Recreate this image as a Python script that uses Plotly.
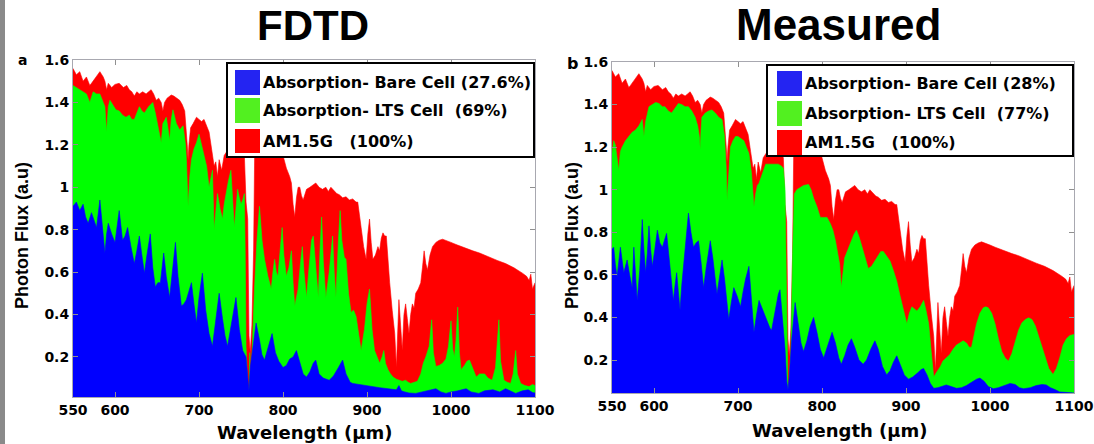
import plotly.graph_objects as go

# ---------------- data (photon flux, a.u.) ----------------
wl_am15 = [550, 554, 558, 562, 566, 570, 572, 576, 580, 582, 586, 588, 590, 592, 596, 600, 605, 610, 614, 617,
           620, 623, 626, 629, 633, 637, 640, 643, 646, 649, 652, 655, 657, 659, 662, 665, 667, 670, 673, 677,
           680, 683, 686, 687, 688, 690, 693, 697, 700, 703, 706, 709, 712, 715, 718, 720, 722, 724, 727, 730,
           735, 740, 745, 750, 754, 756, 758, 759.5, 761, 763, 765, 766.5, 775, 785, 795, 800, 804, 808, 810, 812,
           814, 816, 818, 820, 822, 824, 826, 828, 832, 836, 839, 843, 847, 851, 854, 857, 861, 864, 867, 871,
           875, 879, 883, 887, 889, 891, 893, 896, 899, 901, 903, 905, 907, 910, 913, 915, 917, 919, 921, 923,
           925, 927, 930, 933, 935, 937, 938, 940, 942, 944, 946, 948, 950, 952, 954, 956, 958, 961, 964, 966,
           968, 970, 972, 975, 978, 982, 986, 990, 994, 1000, 1006, 1012, 1018, 1026, 1034, 1045, 1055, 1065, 1075, 1085,
           1090, 1093, 1095, 1097, 1100]
flux_am15 = [1.56, 1.53, 1.545, 1.50, 1.52, 1.48, 1.49, 1.51, 1.53, 1.545, 1.52, 1.50, 1.46, 1.49, 1.47, 1.485, 1.49, 1.47, 1.48, 1.46,
             1.45, 1.43, 1.45, 1.44, 1.45, 1.44, 1.45, 1.46, 1.44, 1.41, 1.42, 1.40, 1.36, 1.40, 1.42, 1.43, 1.435, 1.43, 1.42, 1.41,
             1.39, 1.36, 1.20, 1.13, 1.20, 1.28, 1.30, 1.33, 1.32, 1.31, 1.32, 1.29, 1.26, 1.18, 1.10, 1.12, 1.05, 1.13, 1.08, 1.15,
             1.18, 1.17, 1.19, 1.18, 1.15, 0.93, 0.85, 0.30, 0.22, 0.35, 0.70, 1.25, 1.28, 1.27, 1.25, 1.15, 1.09, 1.05, 1.02, 0.92,
             0.86, 0.95, 1.00, 1.00, 0.96, 0.94, 0.97, 0.99, 1.00, 1.01, 1.02, 1.00, 0.99, 1.00, 0.98, 1.00, 0.98, 0.97, 0.965, 0.95,
             0.955, 0.94, 0.945, 0.93, 0.93, 0.86, 0.81, 0.72, 0.66, 0.78, 0.85, 0.74, 0.66, 0.68, 0.72, 0.70, 0.76, 0.785, 0.77, 0.77,
             0.65, 0.55, 0.42, 0.31, 0.15, 0.35, 0.47, 0.35, 0.23, 0.40, 0.45, 0.38, 0.31, 0.40, 0.45, 0.43, 0.50, 0.52, 0.55, 0.62,
             0.70, 0.64, 0.61, 0.68, 0.72, 0.74, 0.75, 0.755, 0.75, 0.74, 0.73, 0.72, 0.71, 0.70, 0.69, 0.67, 0.655, 0.64, 0.62, 0.595,
             0.58, 0.56, 0.59, 0.52, 0.55]

wl_lts_fdtd = [550, 554, 558, 562, 566, 570, 574, 578, 582, 586, 588, 590, 592, 594, 598, 601, 605, 609, 613, 617,
               620, 623, 626, 629, 632, 635, 640, 645, 648, 651, 653, 655, 657, 661, 663, 665, 667, 669, 673, 677,
               681, 684, 685, 687, 689, 691, 694, 697, 700, 703, 706, 709, 712, 714, 716, 718, 720, 722, 725, 728,
               730, 732, 735, 738, 740, 742, 744, 746, 748, 750, 752, 754, 755, 756, 758, 759.5, 760.5, 761.5, 764, 766,
               769, 772, 775, 778, 782, 786, 788, 790, 792, 794, 797, 799, 801, 804, 807, 810, 812, 814, 816, 818,
               821, 823, 825, 828, 831, 834, 836, 839, 842, 844, 846, 848, 851, 855, 859, 861, 863, 866, 868, 870,
               873, 875, 878, 881, 884, 887, 890, 893, 897, 900, 903, 906, 909, 912, 915, 918, 920, 922, 925, 928,
               931, 935, 938, 942, 946, 949, 952, 956, 960, 964, 967, 970, 974, 977, 979, 982, 986, 990, 994, 997,
               1000, 1002, 1004, 1006, 1008, 1010, 1012, 1016, 1019, 1022, 1026, 1030, 1034, 1040, 1044, 1049, 1053, 1057, 1059, 1063,
               1067, 1071, 1074, 1077, 1079, 1083, 1088, 1093, 1097, 1100]
flux_lts_fdtd = [1.48, 1.47, 1.46, 1.45, 1.44, 1.40, 1.45, 1.44, 1.44, 1.40, 1.38, 1.26, 1.38, 1.41, 1.38, 1.365, 1.36, 1.34, 1.33, 1.34,
                 1.32, 1.32, 1.35, 1.38, 1.36, 1.35, 1.38, 1.40, 1.35, 1.29, 1.25, 1.21, 1.30, 1.33, 1.28, 1.22, 1.32, 1.365, 1.30, 1.27,
                 1.29, 1.20, 1.13, 0.91, 1.05, 1.13, 1.18, 1.21, 1.25, 1.20, 1.16, 1.10, 1.00, 1.05, 1.08, 0.80, 0.90, 0.97, 0.90, 0.85,
                 0.92, 0.97, 1.03, 1.08, 0.95, 0.81, 0.90, 0.99, 0.95, 0.92, 0.94, 0.97, 0.70, 0.25, 0.06, 0.04, 0.22, 0.05, 0.30, 0.52,
                 0.75, 0.91, 0.75, 0.66, 0.58, 0.52, 0.60, 0.66, 0.60, 0.58, 0.72, 0.81, 0.68, 0.58, 0.62, 0.70, 0.55, 0.44, 0.48, 0.52,
                 0.65, 0.72, 0.60, 0.48, 0.62, 0.75, 0.77, 0.60, 0.48, 0.70, 0.86, 0.65, 0.48, 0.60, 0.77, 0.60, 0.48, 0.75, 0.89, 0.75,
                 0.67, 0.66, 0.50, 0.41, 0.42, 0.39, 0.30, 0.23, 0.33, 0.45, 0.52, 0.33, 0.23, 0.20, 0.17, 0.20, 0.23, 0.17, 0.14, 0.12,
                 0.105, 0.095, 0.09, 0.085, 0.09, 0.08, 0.075, 0.08, 0.085, 0.12, 0.17, 0.20, 0.25, 0.375, 0.22, 0.155, 0.16, 0.17, 0.19, 0.25,
                 0.37, 0.24, 0.20, 0.28, 0.435, 0.22, 0.14, 0.16, 0.18, 0.185, 0.14, 0.105, 0.12, 0.12, 0.10, 0.09, 0.15, 0.375, 0.18, 0.09,
                 0.08, 0.075, 0.12, 0.23, 0.12, 0.075, 0.065, 0.06, 0.07, 0.065]

wl_bare_fdtd = [550, 554, 558, 562, 565, 568, 572, 575, 578, 582, 585, 588, 590, 592, 596, 600, 605, 609, 612, 615,
                619, 623, 626, 629, 632, 635, 638, 642, 645, 648, 651, 654, 658, 661, 665, 668, 672, 675, 679, 682,
                685, 688, 691, 694, 697, 700, 704, 708, 712, 716, 720, 724, 728, 731, 734, 738, 741, 744, 748, 752,
                756, 758, 759.5, 761, 764, 768, 772, 775, 778, 782, 787, 791, 795, 800, 804, 808, 812, 816, 820, 824,
                828, 832, 836, 839, 843, 848, 855, 860, 866, 871, 875, 880, 883, 890, 897, 907, 915, 925, 935, 938,
                941, 944, 950, 958, 966, 974, 982, 988, 994, 1000, 1008, 1018, 1024, 1033, 1040, 1050, 1058, 1065, 1072, 1077,
                1085, 1092, 1097, 1100]
flux_bare_fdtd = [0.91, 0.93, 0.89, 0.92, 0.86, 0.83, 0.88, 0.84, 0.81, 0.94, 0.80, 0.69, 0.78, 0.83, 0.78, 0.74, 0.89, 0.75, 0.77, 0.81,
                  0.72, 0.64, 0.70, 0.77, 0.68, 0.595, 0.68, 0.78, 0.62, 0.53, 0.55, 0.55, 0.69, 0.58, 0.48, 0.60, 0.74, 0.58, 0.44, 0.45,
                  0.47, 0.51, 0.55, 0.45, 0.36, 0.48, 0.595, 0.42, 0.31, 0.25, 0.38, 0.50, 0.38, 0.30, 0.25, 0.35, 0.42, 0.48, 0.33, 0.23,
                  0.20, 0.08, 0.04, 0.15, 0.25, 0.36, 0.28, 0.21, 0.185, 0.24, 0.31, 0.22, 0.18, 0.15, 0.16, 0.19, 0.20, 0.23, 0.17, 0.12,
                  0.105, 0.13, 0.17, 0.185, 0.12, 0.10, 0.09, 0.11, 0.15, 0.185, 0.12, 0.08, 0.075, 0.07, 0.065, 0.06, 0.055, 0.05, 0.045, 0.065,
                  0.04, 0.036, 0.03, 0.028, 0.035, 0.04, 0.05, 0.035, 0.028, 0.035, 0.04, 0.05, 0.035, 0.028, 0.04, 0.045, 0.035, 0.05, 0.035, 0.028,
                  0.04, 0.045, 0.032, 0.03]

wl_lts_meas = [550, 552, 554, 556, 558, 560, 562, 566, 570, 574, 578, 582, 586, 588, 590, 594, 598, 602, 606, 610,
               613, 617, 621, 625, 629, 633, 637, 641, 645, 649, 652, 654, 655, 656, 657, 661, 665, 669, 673, 677,
               681, 684, 686, 687, 689, 691, 694, 697, 700, 704, 707, 710, 713, 716, 719, 721, 723, 725, 729, 733,
               737, 740, 744, 748, 752, 754, 756, 758, 759.5, 761, 763, 765, 767, 770, 774, 778, 784, 787, 790, 794,
               798, 802, 806, 810, 813, 816, 819, 821, 823, 825, 827, 831, 835, 838, 841, 844, 847, 851, 855, 859,
               863, 867, 870, 873, 877, 881, 885, 889, 893, 897, 901, 904, 907, 910, 913, 917, 921, 924, 927, 930,
               933, 936, 938, 941, 944, 948, 952, 956, 960, 964, 968, 972, 975, 978, 981, 984, 988, 992, 995, 998,
               1002, 1006, 1010, 1014, 1018, 1022, 1026, 1030, 1034, 1038, 1042, 1046, 1050, 1054, 1058, 1062, 1066, 1070, 1075, 1079,
               1083, 1087, 1091, 1095, 1100]
flux_lts_meas = [1.17, 1.23, 1.21, 1.15, 1.09, 1.18, 1.20, 1.23, 1.25, 1.27, 1.28, 1.30, 1.33, 1.25, 1.32, 1.39, 1.40, 1.41, 1.405, 1.39,
                 1.39, 1.37, 1.36, 1.38, 1.405, 1.40, 1.39, 1.39, 1.37, 1.34, 1.30, 1.25, 1.19, 1.28, 1.34, 1.36, 1.37, 1.375, 1.36, 1.34,
                 1.33, 1.25, 1.10, 0.95, 1.10, 1.20, 1.23, 1.25, 1.25, 1.24, 1.23, 1.20, 1.17, 1.08, 0.92, 0.98, 1.02, 1.03, 1.08, 1.12,
                 1.12, 1.12, 1.12, 1.12, 1.11, 1.10, 1.00, 0.30, 0.06, 0.10, 0.25, 0.70, 0.98, 1.00, 1.01, 1.02, 1.025, 1.00, 0.96, 0.92,
                 0.87, 0.87, 0.87, 0.84, 0.81, 0.76, 0.70, 0.65, 0.54, 0.62, 0.68, 0.72, 0.76, 0.79, 0.81, 0.78, 0.74, 0.69, 0.63, 0.64,
                 0.665, 0.69, 0.71, 0.71, 0.69, 0.665, 0.62, 0.57, 0.50, 0.43, 0.37, 0.42, 0.45, 0.44, 0.43, 0.45, 0.48, 0.43, 0.37, 0.24,
                 0.12, 0.14, 0.15, 0.17, 0.195, 0.21, 0.225, 0.25, 0.27, 0.28, 0.29, 0.28, 0.26, 0.26, 0.31, 0.37, 0.42, 0.445, 0.45, 0.445,
                 0.42, 0.37, 0.30, 0.24, 0.21, 0.195, 0.23, 0.29, 0.34, 0.375, 0.39, 0.398, 0.39, 0.36, 0.31, 0.25, 0.20, 0.16, 0.132, 0.16,
                 0.21, 0.27, 0.30, 0.315, 0.32]

wl_bare_meas = [550, 552, 554, 556, 558, 560, 562, 564, 566, 568, 571, 574, 576, 578, 580, 583, 586, 588, 590, 592,
                594, 596, 598, 601, 604, 607, 610, 613, 615, 618, 621, 623, 625, 627, 629, 631, 633, 635, 638, 641,
                644, 647, 650, 653, 656, 659, 662, 665, 667, 670, 673, 675, 678, 681, 684, 687, 689, 692, 695, 699,
                703, 706, 709, 713, 716, 719, 722, 725, 728, 731, 735, 738, 740, 744, 748, 750, 753, 756, 758, 759.5,
                761, 764, 768, 772, 775, 778, 782, 786, 790, 794, 798, 802, 806, 812, 816, 820, 823, 827, 831, 835,
                839, 844, 849, 853, 858, 863, 867, 872, 877, 881, 885, 889, 893, 898, 903, 908, 914, 918, 921, 925,
                929, 933, 938, 944, 948, 954, 960, 966, 972, 978, 984, 988, 993, 998, 1004, 1010, 1016, 1024, 1030, 1035,
                1040, 1048, 1055, 1062, 1067, 1072, 1078, 1083, 1090, 1100]
flux_bare_meas = [0.72, 0.73, 0.65, 0.59, 0.66, 0.73, 0.67, 0.61, 0.64, 0.67, 0.60, 0.54, 0.73, 0.60, 0.48, 0.62, 0.86, 0.72, 0.61, 0.70,
                  0.83, 0.72, 0.64, 0.72, 0.81, 0.75, 0.73, 0.77, 0.795, 0.68, 0.55, 0.48, 0.55, 0.61, 0.52, 0.435, 0.55, 0.64, 0.76, 0.89,
                  0.80, 0.73, 0.75, 0.76, 0.66, 0.54, 0.63, 0.72, 0.76, 0.68, 0.58, 0.51, 0.59, 0.67, 0.58, 0.46, 0.39, 0.47, 0.54, 0.50,
                  0.45, 0.52, 0.58, 0.64, 0.50, 0.33, 0.41, 0.48, 0.45, 0.42, 0.38, 0.35, 0.34, 0.43, 0.51, 0.53, 0.38, 0.25, 0.10, 0.06,
                  0.12, 0.30, 0.47, 0.36, 0.28, 0.24, 0.29, 0.36, 0.40, 0.33, 0.25, 0.21, 0.26, 0.33, 0.28, 0.21, 0.18, 0.22, 0.27, 0.30,
                  0.26, 0.20, 0.18, 0.20, 0.25, 0.29, 0.25, 0.17, 0.13, 0.15, 0.19, 0.22, 0.18, 0.13, 0.11, 0.12, 0.14, 0.155, 0.16, 0.13,
                  0.09, 0.067, 0.07, 0.08, 0.083, 0.075, 0.067, 0.07, 0.08, 0.095, 0.11, 0.115, 0.10, 0.075, 0.065, 0.07, 0.08, 0.09, 0.085, 0.07,
                  0.065, 0.07, 0.08, 0.085, 0.083, 0.07, 0.06, 0.05, 0.048, 0.045]

x_tickvals = [550, 600, 700, 800, 900, 1000, 1100]
x_ticktext = ["550", "600", "700", "800", "900", "1000", "1100"]
y_tickvals = [0.2, 0.4, 0.6, 0.8, 1.0, 1.2, 1.4, 1.6]
y_ticktext = ["0.2", "0.4", "0.6", "0.8", "1", "1.2", "1.4", "1.6"]

panel_titles = ["FDTD", "Measured"]
panel_letters = ["a", "b"]
legend_fdtd = ["Absorption- Bare Cell (27.6%)", "Absorption- LTS Cell\u00a0\u00a0(69%)", "AM1.5G\u00a0\u00a0\u00a0(100%)"]
legend_meas = ["Absorption- Bare Cell (28%)", "Absorption- LTS Cell\u00a0\u00a0(77%)", "AM1.5G\u00a0\u00a0\u00a0(100%)"]

# ---------------- figure ----------------
W, H = 1094, 444
FONT_T = "Liberation Sans, Arial, sans-serif"     # titles
FONT_M = "DejaVu Sans, Verdana, sans-serif"       # axis / legend text (wide, like the stretched original)
RED, GREEN, BLUE = "#ff0000", "#00ff00", "#0000ff"
SW_BLUE, SW_GREEN, SW_RED = "#2424f2", "#52f020", "#ff0000"


def fx(p):
    return p / W


def fy(p):
    return 1 - p / H


fig = go.Figure()

panels = [
    ("x", "y", wl_lts_fdtd, flux_lts_fdtd, wl_bare_fdtd, flux_bare_fdtd),
    ("x2", "y2", wl_lts_meas, flux_lts_meas, wl_bare_meas, flux_bare_meas),
]
for xa, ya, wl_g, fl_g, wl_b, fl_b in panels:
    fig.add_trace(go.Scatter(x=wl_am15, y=flux_am15, xaxis=xa, yaxis=ya, mode="lines",
                             line=dict(color=RED, width=0.6), fill="tozeroy", fillcolor=RED))
    fig.add_trace(go.Scatter(x=wl_g, y=fl_g, xaxis=xa, yaxis=ya, mode="lines",
                             line=dict(color=GREEN, width=0.6), fill="tozeroy", fillcolor=GREEN))
    fig.add_trace(go.Scatter(x=wl_b, y=fl_b, xaxis=xa, yaxis=ya, mode="lines",
                             line=dict(color=BLUE, width=0.6), fill="tozeroy", fillcolor=BLUE))

tickfont = dict(family=FONT_M, size=14, color="black", weight="bold")
axis_common = dict(showgrid=False, zeroline=False, showline=True, mirror="ticks",
                   linecolor="#a8a8b0", linewidth=1, ticks="inside", ticklen=5,
                   tickcolor="#909090", tickfont=tickfont, automargin=False)

fig.update_layout(
    width=W, height=H, margin=dict(l=0, r=0, t=0, b=0, pad=0),
    paper_bgcolor="white", plot_bgcolor="white", showlegend=False,
    xaxis=dict(domain=[fx(73), fx(535)], range=[550, 1100], anchor="y",
               tickvals=x_tickvals, ticktext=x_ticktext, **axis_common),
    yaxis=dict(domain=[fy(397), fy(60)], range=[0.011, 1.6], anchor="x",
               tickvals=y_tickvals, ticktext=y_ticktext, **axis_common),
    xaxis2=dict(domain=[fx(612), fx(1074)], range=[550, 1100], anchor="y2",
                tickvals=x_tickvals, ticktext=x_ticktext, **axis_common),
    yaxis2=dict(domain=[fy(393), fy(62)], range=[0.045, 1.6], anchor="x2",
                tickvals=y_tickvals, ticktext=y_ticktext, **axis_common),
)

shapes = []
annotations = []

# left edge strip (screenshot artefact)
shapes.append(dict(type="rect", xref="paper", yref="paper", x0=0, x1=fx(5), y0=0, y1=1,
                   fillcolor="#8a8a8a", line=dict(width=0), layer="below"))


def add_text(x, y, text, size, family=FONT_M, xanchor="center", yanchor="middle", angle=0):
    annotations.append(dict(xref="paper", yref="paper", x=fx(x), y=fy(y), text="<b>" + text + "</b>",
                            showarrow=False, xanchor=xanchor, yanchor=yanchor, textangle=angle,
                            font=dict(family=family, size=size, color="black")))


# titles
add_text(313, 26, panel_titles[0], 42, family=FONT_T)
add_text(838, 24, panel_titles[1], 44, family=FONT_T)
# panel letters
add_text(22, 60, panel_letters[0], 14)
add_text(572, 63, panel_letters[1], 16)
# axis titles
add_text(305, 432, "Wavelength (µm)", 18)
add_text(840, 430, "Wavelength (µm)", 18)
add_text(22, 236, "Photon Flux (a.u)", 18, family=FONT_T, angle=-90)
add_text(572, 236, "Photon Flux (a.u)", 18, family=FONT_T, angle=-90)


def add_legend(x0, x1, y0, y1, sw_x0, rows, labels):
    shapes.append(dict(type="rect", xref="paper", yref="paper", x0=fx(x0), x1=fx(x1), y0=fy(y1), y1=fy(y0),
                       fillcolor="white", line=dict(color="black", width=2), layer="above"))
    for (ry0, ry1), col, lab in zip(rows, [SW_BLUE, SW_GREEN, SW_RED], labels):
        shapes.append(dict(type="rect", xref="paper", yref="paper", x0=fx(sw_x0), x1=fx(sw_x0 + 25),
                           y0=fy(ry1), y1=fy(ry0), fillcolor=col, line=dict(width=0), layer="above"))
        add_text(sw_x0 + 26, (ry0 + ry1) / 2, lab, 16, xanchor="left")


add_legend(227, 534, 63, 157, 235, [(70, 95), (98, 123), (129, 153)], legend_fdtd)
add_legend(767, 1073, 65, 156, 777, [(71, 96), (101, 126), (130, 155)], legend_meas)

fig.update_layout(shapes=shapes, annotations=annotations)
fig.write_html("out.html",
               post_script="document.body.style.margin='0';document.body.style.overflow='hidden';")
